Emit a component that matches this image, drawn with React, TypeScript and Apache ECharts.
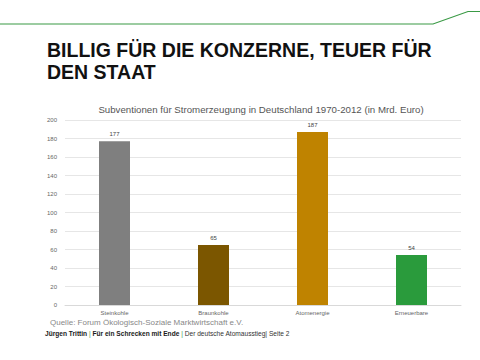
import React, { useEffect, useRef } from "react";
import * as echarts from "echarts";

const categories = ["Steinkohle", "Braunkohle", "Atomenergie", "Erneuerbare"];
const values = [177, 65, 187, 54];
const barColors = ["#7f7f7f", "#7b5600", "#bf8300", "#2a9b3c"];

export default function App() {
  const ref = useRef<HTMLDivElement>(null);
  useEffect(() => {
    if (!ref.current) return;
    const chart = echarts.init(ref.current, null, { renderer: "svg" });
    chart.setOption({
      animation: false,
      backgroundColor: "#ffffff",
      title: {
        text: "Subventionen für Stromerzeugung in Deutschland 1970-2012 (in Mrd. Euro)",
        left: 256,
        textAlign: "center",
        top: 99,
        textStyle: { fontFamily: "Liberation Sans, Arial", fontSize: 9.7, fontWeight: "normal", color: "#555555" },
      },
      grid: { left: 65, right: 19, top: 120, bottom: 55 },
      xAxis: {
        type: "category",
        data: categories,
        axisLine: { lineStyle: { color: "#d9d9d9" } },
        axisTick: { show: false },
        axisLabel: { fontFamily: "Liberation Sans, Arial", fontSize: 6, color: "#666666", margin: 5 },
      },
      yAxis: {
        type: "value",
        min: 0,
        max: 200,
        interval: 20,
        axisLine: { show: false },
        axisTick: { show: false },
        splitLine: { lineStyle: { color: "#e6e6e6" } },
        axisLabel: { fontFamily: "Liberation Sans, Arial", fontSize: 6, color: "#666666", margin: 8 },
      },
      series: [
        {
          type: "bar",
          data: values.map((v, i) => ({ value: v, itemStyle: { color: barColors[i] } })),
          barWidth: 31,
          label: {
            show: true,
            position: "top",
            distance: 4,
            fontFamily: "Liberation Sans, Arial",
            fontSize: 6,
            color: "#444444",
          },
        },
      ],
      graphic: [
        {
          type: "polyline",
          shape: { points: [[0, 24], [433, 24], [468, 11.5], [480, 11.5]] },
          style: { stroke: "#3a9a45", lineWidth: 1.2, fill: null },
        },
        {
          type: "text",
          left: 47,
          top: 39,
          style: {
            text: "BILLIG FÜR DIE KONZERNE, TEUER FÜR\nDEN STAAT",
            fontFamily: "Liberation Sans, Arial",
            fontSize: 19.5,
            fontWeight: "bold",
            lineHeight: 22,
            fill: "#111111",
          },
        },
        {
          type: "text",
          left: 50,
          top: 318,
          style: {
            text: "Quelle: Forum Ökologisch-Soziale Marktwirtschaft e.V.",
            fontFamily: "Liberation Sans, Arial",
            fontSize: 8,
            fill: "#888888",
          },
        },
        {
          type: "text",
          left: 45,
          top: 330,
          style: {
            text: "{b|Jürgen Trittin} {g||} {b|Für ein Schrecken mit Ende} {g||} {n|Der deutsche Atomausstieg| Seite 2}",
            fontFamily: "Liberation Sans, Arial",
            fontSize: 6.6,
            fill: "#222222",
            rich: {
              b: { fontFamily: "Liberation Sans, Arial", fontSize: 6.6, fontWeight: "bold", fill: "#1a1a1a", color: "#1a1a1a" },
              g: { fontFamily: "Liberation Sans, Arial", fontSize: 6.6, fill: "#3a9a45", color: "#3a9a45" },
              n: { fontFamily: "Liberation Sans, Arial", fontSize: 6.6, fill: "#333333", color: "#333333" },
            },
          },
        },
      ],
    });
    return () => chart.dispose();
  }, []);
  return <div ref={ref} style={{ width: 480, height: 360, position: "absolute", left: 0, top: 0 }} />;
}
